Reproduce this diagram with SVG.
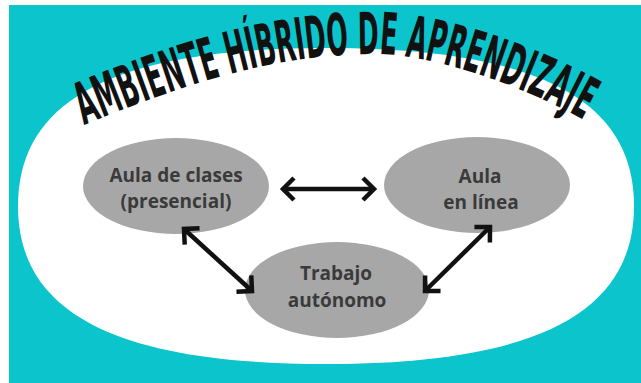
<svg xmlns="http://www.w3.org/2000/svg" width="641" height="383" viewBox="0 0 641 383">
<style>
.node{fill:#a7a7a7}
.lbl{font-family:"Open Sans","Liberation Sans",sans-serif;font-weight:700;font-size:19px;fill:#3a3a3a;text-anchor:middle}
.title{font-family:"DejaVu Sans Condensed","DejaVu Sans",sans-serif;font-stretch:condensed;font-weight:700;font-size:58px;fill:#111}
.conn{stroke:#111;stroke-width:4.5;fill:none;marker-start:url(#chev);marker-end:url(#chev)}
</style>
<defs>
<marker id="chev" markerUnits="userSpaceOnUse" viewBox="-20 -20 40 40" markerWidth="40" markerHeight="40" refX="0" refY="0" orient="auto-start-reverse" overflow="visible">
<path d="M -11 -11 L 0 0 L -11 11" fill="none" stroke="#111" stroke-width="4.5" stroke-linejoin="miter"/>
</marker>
<path id="arc" d="M 84 125 C 184 84, 275 54, 375 54 C 430 54, 525 85, 594 126"/>
</defs>
<rect x="0" y="0" width="641" height="383" fill="#ffffff"/>
<rect x="9" y="5" width="632" height="378" fill="#0bc4cc"/>
<path d="M 634 206 C 634 98.6, 535.4 48, 326 48 C 116.6 48, 18 98.6, 18 206 C 18 313.4, 116.6 364, 326 364 C 535.4 364, 634 313.4, 634 206 Z" fill="#ffffff"/>
<g id="title">
<text class="title"><textPath href="#arc" textLength="522" lengthAdjust="spacingAndGlyphs">AMBIENTE HÍBRIDO DE APRENDIZAJE</textPath></text>
</g>
<g id="aula-clases">
<ellipse class="node" cx="176" cy="186" rx="93" ry="48"/>
<text class="lbl" x="176" y="182">Aula de clases</text>
<text class="lbl" x="176" y="208">(presencial)</text>
</g>
<g id="aula-linea">
<ellipse class="node" cx="477" cy="185" rx="93" ry="48"/>
<text class="lbl" x="480" y="183">Aula</text>
<text class="lbl" x="481" y="209">en línea</text>
</g>
<g id="trabajo">
<ellipse class="node" cx="337" cy="290" rx="92" ry="48"/>
<text class="lbl" x="336" y="280">Trabajo</text>
<text class="lbl" x="337" y="307">autónomo</text>
</g>
<g id="connectors">
<line class="conn" x1="283" y1="189" x2="374" y2="189"/>
<line class="conn" x1="184" y1="229" x2="252" y2="291"/>
<line class="conn" x1="425" y1="291" x2="490" y2="227"/>
</g>
</svg>
